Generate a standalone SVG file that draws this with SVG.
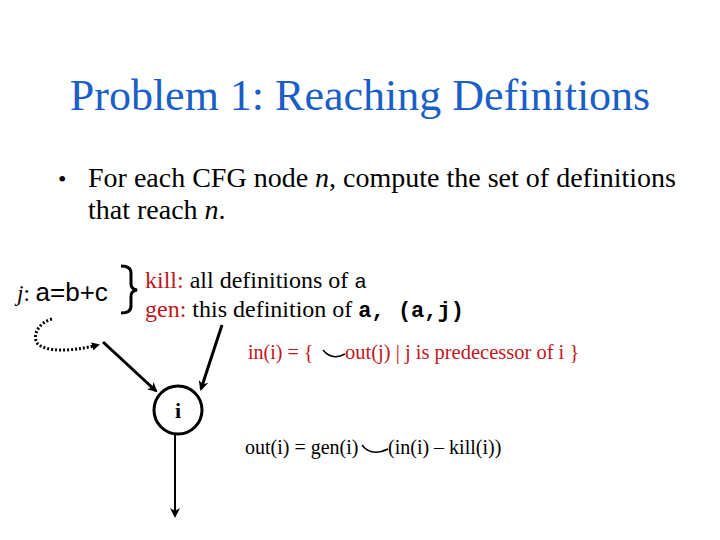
<svg xmlns="http://www.w3.org/2000/svg" width="720" height="540" viewBox="0 0 720 540">
<defs>
<style>
.t{font-family:"Liberation Serif","Times New Roman",serif;fill:#000}
.red{fill:#c0161c}
.mono{font-family:"Liberation Mono","Courier New",monospace}
.sans{font-family:"Liberation Sans",Arial,sans-serif}
.ln{stroke:#000;stroke-width:3;fill:none}
</style>
<marker id="ah" markerWidth="8" markerHeight="8" refX="6" refY="4" orient="auto" markerUnits="userSpaceOnUse" viewBox="0 0 8 8">
<path d="M0,0 L8,4 L0,8 Z" fill="#000"/>
</marker>
<marker id="ah2" markerWidth="10" markerHeight="10" refX="8" refY="5" orient="auto" markerUnits="userSpaceOnUse" viewBox="0 0 10 10">
<path d="M0,0 L10,5 L0,10 L3,5 Z" fill="#000"/>
</marker>
</defs>
<rect width="720" height="540" fill="#fff"/>
<g id="title">
<text x="360" y="110" text-anchor="middle" class="t" style="fill:#1a5ec8" font-size="44">Problem 1: Reaching Definitions</text>
</g>
<g id="bullet">
<text x="58" y="187" class="t" font-size="24">•</text>
<text x="88" y="187" class="t" font-size="28">For each CFG node <tspan font-style="italic">n</tspan>, compute the set of definitions</text>
<text x="88" y="219" class="t" font-size="28">that reach <tspan font-style="italic">n</tspan>.</text>
</g>
<g id="node-j">
<text x="17" y="301" class="t" font-size="23"><tspan font-style="italic">j</tspan>: <tspan class="sans" font-size="26">a=b+c</tspan></text>
</g>
<g id="brace">
<path d="M121,266 Q131,266 131,273 L131,284 Q131,289 137,290 Q131,291 131,296 L131,306 Q131,313 121,313" class="ln" stroke-width="2.5"/>
</g>
<g id="killgen">
<text x="145" y="288" class="t" font-size="24"><tspan class="red">kill:</tspan> all definitions of <tspan class="mono" font-size="21">a</tspan></text>
<text x="145" y="317" class="t" font-size="24"><tspan class="red">gen:</tspan> this definition of <tspan class="mono" font-size="22" font-weight="bold">a,  (a,j)</tspan></text>
</g>
<g id="in-eq">
<text x="248" y="359" class="t red" font-size="20">in(i) =  {</text>
<path d="M323,350 Q332,361 345,354" stroke="#000" stroke-width="1.5" fill="none"/>
<text x="345" y="359" class="t red" font-size="20.5">out(j) | j is predecessor of i }</text>
</g>
<g id="node-i">
<circle cx="178" cy="410" r="24" fill="#fff" stroke="#000" stroke-width="3"/>
<text x="178" y="418" text-anchor="middle" class="t" font-size="22" font-weight="bold">i</text>
</g>
<g id="out-eq">
<text x="245" y="454" class="t" font-size="20">out(i) = gen(i)</text>
<path d="M362,445 Q371,457 388,449" stroke="#000" stroke-width="1.5" fill="none"/>
<text x="388" y="454" class="t" font-size="20">(in(i) – kill(i))</text>
</g>
<g id="connectors">
<path d="M52,319 C40,322 32,334 37,343 C45,352 70,352 98,345" stroke="#000" stroke-width="3" stroke-dasharray="2,2" fill="none" marker-end="url(#ah)"/>
<path d="M103,342 L156,391" class="ln" marker-end="url(#ah2)"/>
<path d="M222,325 L201,389" class="ln" marker-end="url(#ah2)"/>
<path d="M175,434 L175,516" stroke="#000" stroke-width="2" marker-end="url(#ah2)"/>
</g>
</svg>
